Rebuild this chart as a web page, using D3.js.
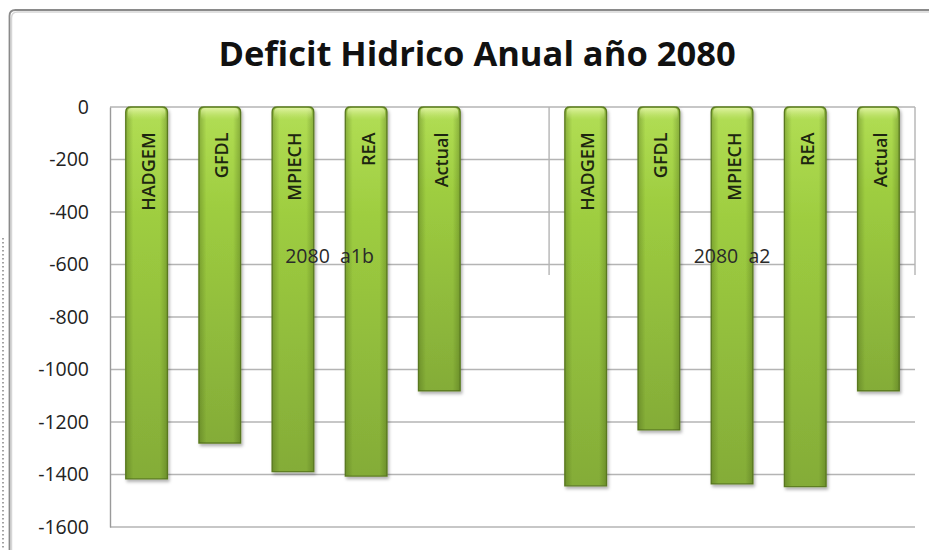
<!DOCTYPE html>
<html>
<head>
<meta charset="utf-8">
<script src="https://cdn.jsdelivr.net/npm/d3@7"></script>
<style>
  html, body { margin: 0; padding: 0; background: #fff; }
  svg { display: block; font-family: "Open Sans", "DejaVu Sans", sans-serif; }
</style>
</head>
<body>
<svg id="chart" width="929" height="550"></svg>
<script>
// Annual water deficit (mm) per climate model, two 2080 emission scenarios
const chartTitle = "Deficit Hidrico Anual año 2080";
const models = ["HADGEM", "GFDL", "MPIECH", "REA", "Actual"];
const scenarios = ["2080  a1b", "2080  a2"];
const deficitA1b = [-1417, -1280, -1389, -1406, -1081];
const deficitA2 = [-1443, -1230, -1436, -1446, -1081];
const yTicks = [0, -200, -400, -600, -800, -1000, -1200, -1400, -1600];

// Flat category list; the first scenario carries one empty slot after its models
const rows = [];
models.forEach((m, i) => rows.push({ key: "a1b-" + m, model: m, group: 0, value: deficitA1b[i] }));
rows.push({ key: "a1b-blank", model: "", group: 0, value: null });
models.forEach((m, i) => rows.push({ key: "a2-" + m, model: m, group: 1, value: deficitA2[i] }));

const svg = d3.select("#chart");
const plot = { left: 110, right: 915, top: 107, bottom: 527 };

const x = d3.scaleBand()
  .domain(rows.map(d => d.key))
  .range([plot.left, plot.right])
  .paddingInner(0.43)
  .paddingOuter(0.215);

const y = d3.scaleLinear()
  .domain([0, -1600])
  .range([plot.top, plot.bottom]);

const defs = svg.append("defs");
const vGrad = defs.append("linearGradient").attr("id", "barFill")
  .attr("x1", 0).attr("y1", 0).attr("x2", 0).attr("y2", 1);
vGrad.append("stop").attr("offset", "0%").attr("stop-color", "#b2de55");
vGrad.append("stop").attr("offset", "30%").attr("stop-color", "#9ecd40");
vGrad.append("stop").attr("offset", "100%").attr("stop-color", "#84ac38");

const hGrad = defs.append("linearGradient").attr("id", "barEdge")
  .attr("x1", 0).attr("y1", 0).attr("x2", 1).attr("y2", 0);
hGrad.append("stop").attr("offset", "0%").attr("stop-color", "#3f5a12").attr("stop-opacity", 0.35);
hGrad.append("stop").attr("offset", "18%").attr("stop-color", "#3f5a12").attr("stop-opacity", 0);
hGrad.append("stop").attr("offset", "82%").attr("stop-color", "#3f5a12").attr("stop-opacity", 0);
hGrad.append("stop").attr("offset", "100%").attr("stop-color", "#3f5a12").attr("stop-opacity", 0.35);

const capGrad = defs.append("linearGradient").attr("id", "barCap")
  .attr("x1", 0).attr("y1", 0).attr("x2", 0).attr("y2", 1);
capGrad.append("stop").attr("offset", "0%").attr("stop-color", "#e4f5a8").attr("stop-opacity", 0.9);
capGrad.append("stop").attr("offset", "100%").attr("stop-color", "#c6e67a").attr("stop-opacity", 0);

const shadow = defs.append("filter").attr("id", "barShadow")
  .attr("x", "-20%").attr("y", "-5%").attr("width", "150%").attr("height", "115%");
shadow.append("feDropShadow").attr("dx", 1.5).attr("dy", 2.5)
  .attr("stdDeviation", 1.8).attr("flood-color", "#000").attr("flood-opacity", 0.3);

// Chart frame (only its top and left edges fall inside the page), with a soft inner shade
svg.append("path")
  .attr("d", "M11.5,560 L11.5,18 Q11.5,12 17.5,12 L940,12")
  .attr("fill", "none").attr("stroke", "#d6d6d6").attr("stroke-width", 1.5);
svg.append("path")
  .attr("d", "M9.5,560 L9.5,16 Q9.5,10 15.5,10 L940,10")
  .attr("fill", "none").attr("stroke", "#8a8a8a").attr("stroke-width", 1.8);

// Dotted edge line at the far left
svg.append("line")
  .attr("x1", 3).attr("x2", 3).attr("y1", 238).attr("y2", 550)
  .attr("stroke", "#666").attr("stroke-width", 1.2)
  .attr("stroke-dasharray", "1.5,2.5");

// Title
svg.append("text")
  .attr("x", 477).attr("y", 66)
  .attr("text-anchor", "middle")
  .attr("font-size", 34.5).attr("font-weight", 700)
  .attr("fill", "#111")
  .text(chartTitle);

// Horizontal gridlines
svg.append("g").selectAll("line")
  .data(yTicks)
  .join("line")
  .attr("x1", plot.left).attr("x2", plot.right)
  .attr("y1", d => y(d)).attr("y2", d => y(d))
  .attr("stroke", "#b4b4b4").attr("stroke-width", 1.4);

// Value axis
const yAxis = svg.append("g")
  .attr("transform", `translate(${plot.left},0)`)
  .call(d3.axisLeft(y).tickValues(yTicks).tickSize(0).tickPadding(21)
    .tickFormat(d => String(d).replace("−", "-")));
yAxis.select(".domain").attr("stroke", "#9a9a9a").attr("stroke-width", 1.4);
yAxis.selectAll("text")
  .attr("font-size", 19.5)
  .attr("font-family", "'Open Sans', sans-serif")
  .attr("fill", "#222");

// Scenario dividers of the category axis
const groupBounds = scenarios.map((s, gi) => {
  const keys = rows.filter(r => r.group === gi).map(r => r.key);
  const x0 = x(keys[0]) - x.step() * x.paddingInner() / 2;
  const x1 = x(keys[keys.length - 1]) + x.bandwidth() + x.step() * x.paddingInner() / 2;
  return { label: s, x0, x1 };
});
svg.append("g").selectAll("line")
  .data(groupBounds)
  .join("line")
  .attr("x1", d => d.x1).attr("x2", d => d.x1)
  .attr("y1", plot.top).attr("y2", 275)
  .attr("stroke", "#b4b4b4").attr("stroke-width", 1.4);

// Bars
const bars = svg.append("g").selectAll("g")
  .data(rows.filter(r => r.value !== null))
  .join("g");

const barPath = d => {
  const x0 = x(d.key), w = x.bandwidth();
  const y0 = y(0), y1 = y(d.value), r = 5;
  return `M${x0},${y1} L${x0},${y0 + r} Q${x0},${y0} ${x0 + r},${y0} ` +
         `L${x0 + w - r},${y0} Q${x0 + w},${y0} ${x0 + w},${y0 + r} L${x0 + w},${y1} Z`;
};

bars.append("path")
  .attr("d", barPath)
  .attr("fill", "url(#barFill)")
  .attr("stroke", "#5f7f24").attr("stroke-width", 1.3)
  .attr("filter", "url(#barShadow)");
bars.append("path")
  .attr("d", barPath)
  .attr("fill", "url(#barEdge)");
bars.append("rect")
  .attr("x", d => x(d.key) + 2)
  .attr("y", y(0) + 1)
  .attr("width", x.bandwidth() - 4)
  .attr("height", 12)
  .attr("rx", 4)
  .attr("fill", "url(#barCap)");

// Model names written up the bars
svg.append("g").selectAll("text")
  .data(rows.filter(r => r.model))
  .join("text")
  .attr("transform", d => `translate(${x(d.key) + x.bandwidth() / 2 + 1.5},${y(0) + 25.5}) rotate(-90)`)
  .attr("text-anchor", "end")
  .attr("dominant-baseline", "central")
  .attr("font-size", 18)
  .attr("font-weight", 600)
  .attr("fill", "#1d2610")
  .text(d => d.model);

// Scenario labels
svg.append("g").selectAll("text")
  .data(groupBounds)
  .join("text")
  .attr("x", d => (d.x0 + d.x1) / 2)
  .attr("y", 263)
  .attr("text-anchor", "middle")
  .attr("font-size", 19.5)
  .attr("fill", "#2a2a2a")
  .style("white-space", "pre")
  .text(d => d.label);
</script>
</body>
</html>
